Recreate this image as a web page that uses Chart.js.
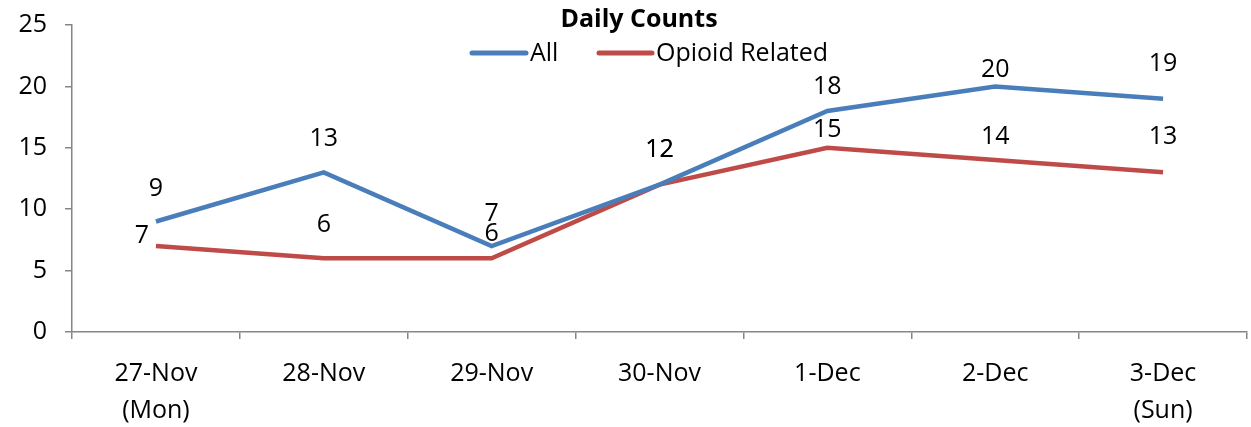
<!DOCTYPE html>
<html>
<head>
<meta charset="utf-8">
<script src="https://cdn.jsdelivr.net/npm/chart.js@4"></script>
<style>
  html, body { margin: 0; padding: 0; background: #fff; }
  #wrap { width: 1251px; height: 427px; }
</style>
</head>
<body>
<div id="wrap"><canvas id="chart" width="1251" height="427"></canvas></div>
<script>
const categories = [['27-Nov', '(Mon)'], '28-Nov', '29-Nov', '30-Nov', '1-Dec', '2-Dec', ['3-Dec', '(Sun)']];
const allCounts = [9, 13, 7, 12, 18, 20, 19];
const opioidCounts = [7, 6, 6, 12, 15, 14, 13];
const yTicks = [0, 5, 10, 15, 20, 25];

// where Excel put the value labels, relative to each point (px)
const allLabelShift = [[0, -33], [0, -33], [0, -32], [0, -35], [0, -24], [0, -17], [0, -35]];
const opioidLabelShift = [[-14, -10], [0, -33], [0, -24], [0, -35], [0, -18], [0, -23], [0, -35]];

const FONT = '"Open Sans", Lato, sans-serif';
const SIZE = 25;
const axisGrey = '#868686';

const overlay = {
  id: 'overlay',
  afterDatasetsDraw(chart) {
    const ctx = chart.ctx;
    ctx.save();
    ctx.fillStyle = '#000';
    ctx.font = SIZE + 'px ' + FONT;
    ctx.textAlign = 'center';
    ctx.textBaseline = 'middle';
    const shifts = [allLabelShift, opioidLabelShift];
    chart.data.datasets.forEach((ds, i) => {
      chart.getDatasetMeta(i).data.forEach((pt, j) => {
        const s = shifts[i][j];
        ctx.fillText(ds.data[j], pt.x + s[0], pt.y + s[1]);
      });
    });

    // title
    ctx.font = 'bold ' + SIZE + 'px ' + FONT;
    ctx.fillText('Daily Counts', 639, 20);

    // legend
    ctx.font = SIZE + 'px ' + FONT;
    ctx.textAlign = 'left';
    ctx.lineCap = 'round';
    ctx.lineWidth = 5;
    const items = [[472, 530], [599, 656]];
    chart.data.datasets.forEach((ds, i) => {
      const [lx, tx] = items[i];
      ctx.strokeStyle = ds.borderColor;
      ctx.beginPath();
      ctx.moveTo(lx, 53);
      ctx.lineTo(tx - 4, 53);
      ctx.stroke();
      ctx.fillText(ds.label, tx, 54);
    });
    ctx.restore();
  }
};

new Chart(document.getElementById('chart'), {
  type: 'line',
  data: {
    labels: categories,
    datasets: [
      { label: 'All', data: allCounts, borderColor: '#4A7EBB', borderWidth: 4.5, pointRadius: 0, tension: 0 },
      { label: 'Opioid Related', data: opioidCounts, borderColor: '#BE4B48', borderWidth: 4.5, pointRadius: 0, tension: 0 }
    ]
  },
  options: {
    responsive: false,
    animation: false,
    layout: { padding: { top: 25, right: 4, left: 0, bottom: 0 } },
    plugins: {
      legend: { display: false },
      title: { display: false },
      tooltip: { enabled: false }
    },
    scales: {
      x: {
        offset: true,
        grid: { offset: true, drawOnChartArea: false, drawTicks: true, tickLength: 7, color: axisGrey, lineWidth: 1.5 },
        border: { color: axisGrey, width: 1.5 },
        ticks: { color: '#000', font: { family: FONT, size: SIZE, lineHeight: 1.5 }, padding: 16, maxRotation: 0, autoSkip: false },
        afterFit(scale) { scale.height = 95; }
      },
      y: {
        min: 0,
        max: 25,
        afterBuildTicks(scale) { scale.ticks = yTicks.map(v => ({ value: v })); },
        grid: { drawOnChartArea: false, drawTicks: true, tickLength: 7, color: axisGrey, lineWidth: 1.5 },
        border: { color: axisGrey, width: 1.5 },
        ticks: { color: '#000', font: { family: FONT, size: SIZE }, padding: 18 },
        afterFit(scale) {
          scale.width = 72;
          scale.paddingTop = 0;
          scale.paddingBottom = 0;
        }
      }
    }
  },
  plugins: [overlay]
});
</script>
</body>
</html>
